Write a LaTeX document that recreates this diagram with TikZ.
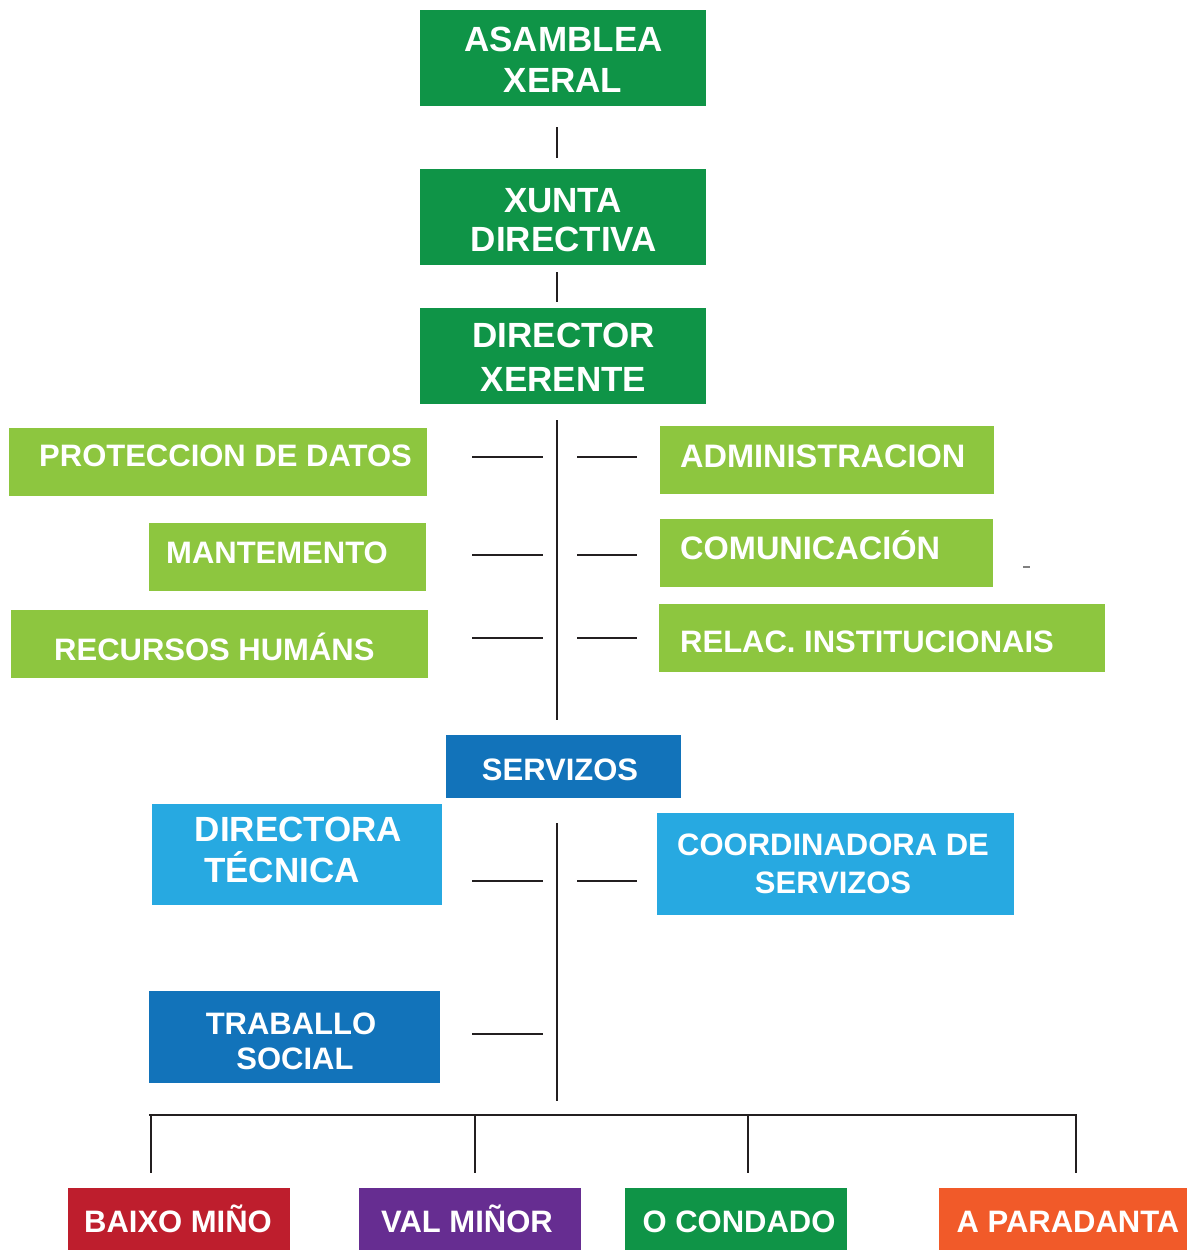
\documentclass[tikz,border=0pt]{standalone}
\usepackage{fontspec}
\setmainfont{Liberation Sans}
\definecolor{dgreen}{HTML}{0F9447}
\definecolor{lgreen}{HTML}{8DC63F}
\definecolor{dblue}{HTML}{1273BA}
\definecolor{lblue}{HTML}{27A9E1}
\definecolor{cred}{HTML}{BE1E2D}
\definecolor{cpurple}{HTML}{662D91}
\definecolor{corange}{HTML}{F15A29}
\definecolor{lin}{HTML}{231F20}
\tikzset{
  box/.style={draw=none, anchor=north west, inner sep=0pt, outer sep=0pt},
  bigt/.style={text=white, inner sep=0pt, anchor=base, font=\fontsize{35}{40}\bfseries\selectfont},
  midt/.style={text=white, inner sep=0pt, anchor=base, font=\fontsize{31}{36}\bfseries\selectfont},
  lt/.style={midt, anchor=base west},
  ltw/.style={lt, font=\fontsize{32.5}{36}\bfseries\selectfont},
  conn/.style={draw=lin, line width=2.8pt}
}
\begin{document}
\begin{tikzpicture}[x=1pt,y=-1pt]
\useasboundingbox (0,0) rectangle (1187,1250);
% top boxes
\node[box, fill=dgreen, minimum width=286pt, minimum height=96pt] (asm) at (420,10) {};
\node[bigt] at (563.5,51.5) {ASAMBLEA};
\node[bigt] at (563,92.5) {XERAL};
\node[box, fill=dgreen, minimum width=286pt, minimum height=96pt] (xun) at (420,169) {};
\node[bigt] at (563,212.5) {XUNTA};
\node[bigt] at (564,251.5) {DIRECTIVA};
\node[box, fill=dgreen, minimum width=286pt, minimum height=96pt] (dir) at (420,308) {};
\node[bigt] at (563.5,347.5) {DIRECTOR};
\node[bigt] at (563.5,391.5) {XERENTE};
% connectors between top boxes
\coordinate (c1a) at (557,127); \coordinate (c1b) at (557,158);
\coordinate (c2a) at (557,272); \coordinate (c2b) at (557,302);
\draw[conn] (c1a) -- (c1b);
\draw[conn] (c2a) -- (c2b);
% staff spine
\coordinate (s1a) at (557,420); \coordinate (s1b) at (557,720);
\draw[conn] (s1a) -- (s1b);
% left staff boxes
\node[box, fill=lgreen, minimum width=418pt, minimum height=68pt] (pro) at (9,428) {};
\node[lt] at (39,466) {PROTECCION DE DATOS};
\node[box, fill=lgreen, minimum width=277pt, minimum height=68pt] (man) at (149,523) {};
\node[lt] at (166,563) {MANTEMENTO};
\node[box, fill=lgreen, minimum width=417pt, minimum height=68pt] (rec) at (11,610) {};
\node[lt] at (54,660) {RECURSOS HUMÁNS};
% right staff boxes
\node[box, fill=lgreen, minimum width=334pt, minimum height=68pt] (adm) at (660,426) {};
\node[ltw] at (680,467) {ADMINISTRACION};
\node[box, fill=lgreen, minimum width=333pt, minimum height=68pt] (com) at (660,519) {};
\node[ltw] at (680,559) {COMUNICACIÓN};
\node[box, fill=lgreen, minimum width=446pt, minimum height=68pt] (rel) at (659,604) {};
\node[lt] at (680,652) {RELAC. INSTITUCIONAIS};
\draw[draw=gray, line width=1.2pt] (1023,567) -- (1030,567);
% stubs
\foreach \yy/\nm in {457/a,555/b,638/c}{
  \coordinate (l\nm1) at (472,\yy); \coordinate (l\nm2) at (543,\yy);
  \coordinate (r\nm1) at (577,\yy); \coordinate (r\nm2) at (637,\yy);
  \draw[conn] (l\nm1) -- (l\nm2);
  \draw[conn] (r\nm1) -- (r\nm2);
}
% servizos
\node[box, fill=dblue, minimum width=235pt, minimum height=63pt] (ser) at (446,735) {};
\node[midt] at (560,780) {SERVIZOS};
\node[box, fill=lblue, minimum width=290pt, minimum height=101pt] (dte) at (152,804) {};
\node[bigt] at (298.5,841) {DIRECTORA};
\node[bigt] at (282,882) {TÉCNICA};
\node[box, fill=lblue, minimum width=357pt, minimum height=102pt] (coo) at (657,813) {};
\node[midt] at (833,855) {COORDINADORA DE};
\node[midt] at (833,893) {SERVIZOS};
\node[box, fill=dblue, minimum width=291pt, minimum height=92pt] (tra) at (149,991) {};
\node[midt] at (291,1034) {TRABALLO};
\node[midt] at (295,1069) {SOCIAL};
\coordinate (s2a) at (557,823); \coordinate (s2b) at (557,1101);
\draw[conn] (s2a) -- (s2b);
\coordinate (ld1) at (472,881); \coordinate (ld2) at (543,881);
\coordinate (rd1) at (577,881); \coordinate (rd2) at (637,881);
\coordinate (lt1) at (472,1034); \coordinate (lt2) at (543,1034);
\draw[conn] (ld1) -- (ld2);
\draw[conn] (rd1) -- (rd2);
\draw[conn] (lt1) -- (lt2);
% bus
\coordinate (b0) at (149,1115); \coordinate (b1) at (1077,1115);
\draw[conn] (b0) -- (b1);
\foreach \xx/\nm in {151/p,475/q,748/r,1076/s}{
  \coordinate (\nm t) at (\xx,1115); \coordinate (\nm b) at (\xx,1173);
  \draw[conn] (\nm t) -- (\nm b);
}
% bottom boxes
\node[box, fill=cred, minimum width=222pt, minimum height=62pt] (bm) at (68,1188) {};
\node[midt] at (178,1232) {BAIXO MIÑO};
\node[box, fill=cpurple, minimum width=222pt, minimum height=62pt] (vm) at (359,1188) {};
\node[midt] at (467,1232) {VAL MIÑOR};
\node[box, fill=dgreen, minimum width=222pt, minimum height=62pt] (oc) at (625,1188) {};
\node[midt] at (739,1232) {O CONDADO};
\node[box, fill=corange, minimum width=248pt, minimum height=62pt] (ap) at (939,1188) {};
\node[midt] at (1068,1232) {A PARADANTA};
\end{tikzpicture}
\end{document}
